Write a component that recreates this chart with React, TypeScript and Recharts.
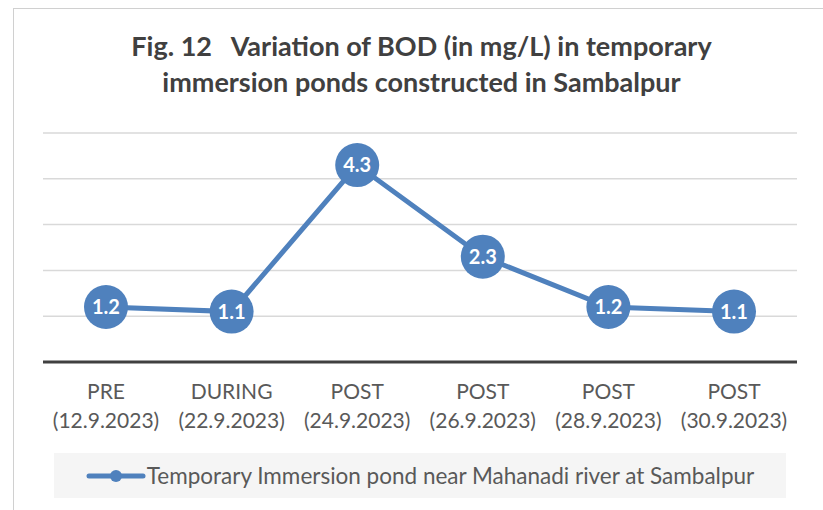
import React from 'react';
import { LineChart, Line, XAxis, YAxis, CartesianGrid } from 'recharts';

const phases = ['PRE', 'DURING', 'POST', 'POST', 'POST', 'POST'];
const dates = ['(12.9.2023)', '(22.9.2023)', '(24.9.2023)', '(26.9.2023)', '(28.9.2023)', '(30.9.2023)'];
const bodValues = [1.2, 1.1, 4.3, 2.3, 1.2, 1.1];
const yTicks = [0, 1, 2, 3, 4, 5];

const seriesName = 'Temporary Immersion pond near Mahanadi river at Sambalpur';
const blue = '#4F81BD';
const font = 'Lato, "Open Sans", sans-serif';

const data = phases.map((p, i) => ({ key: `${p} ${dates[i]}`, phase: p, date: dates[i], bod: bodValues[i] }));

function CategoryTick(props: any) {
    const { x, y, index } = props;
    return (
        <g>
            <text x={x} y={y + 29} textAnchor="middle" fill="#595959" fontSize={21} fontFamily={font}>
                {phases[index]}
            </text>
            <text x={x} y={y + 58} textAnchor="middle" fill="#595959" fontSize={21} fontFamily={font}>
                {dates[index]}
            </text>
        </g>
    );
}

function PointLabel(props: any) {
    const { x, y, value } = props;
    return (
        <text x={x} y={y} dy={7} textAnchor="middle" fill="#fff" fontSize={20} fontWeight="bold" fontFamily={font}>
            {value}
        </text>
    );
}

export default function App() {
    return (
        <div style={{ position: 'absolute', left: 0, top: 0, width: 823, height: 510, background: '#fff', fontFamily: font }}>
            <div
                style={{
                    position: 'absolute',
                    left: 13,
                    top: 8,
                    width: 830,
                    height: 520,
                    border: '1px solid #d0d0d0',
                    boxSizing: 'border-box',
                }}
            />
            <div
                style={{
                    position: 'absolute',
                    left: 0,
                    top: 28,
                    width: 843,
                    textAlign: 'center',
                    fontSize: 27,
                    fontWeight: 'bold',
                    color: '#404040',
                    lineHeight: '36px',
                }}
            >
                Fig. 12&nbsp;&nbsp; Variation of BOD (in mg/L) in temporary
                <br />
                immersion ponds constructed in Sambalpur
            </div>
            <div style={{ position: 'absolute', left: 0, top: 0 }}>
                <LineChart
                    width={823}
                    height={510}
                    data={data}
                    margin={{ top: 133, right: 26, bottom: 68, left: 43 }}
                >
                    <CartesianGrid horizontal vertical={false} stroke="#d9d9d9" strokeWidth={1.5} />
                    <YAxis hide domain={[0, 5]} ticks={yTicks} />
                    <XAxis
                        dataKey="key"
                        height={80}
                        padding={{ left: 63, right: 63 }}
                        axisLine={{ stroke: '#404040', strokeWidth: 3 }}
                        tickLine={false}
                        interval={0}
                        tick={<CategoryTick />}
                    />
                    <Line
                        dataKey="bod"
                        name={seriesName}
                        stroke={blue}
                        strokeWidth={5}
                        dot={{ r: 22, fill: blue, stroke: blue, strokeWidth: 0 }}
                        activeDot={false}
                        label={<PointLabel />}
                        isAnimationActive={false}
                    />
                </LineChart>
            </div>
            <div
                style={{
                    position: 'absolute',
                    left: 54,
                    top: 453,
                    width: 732,
                    height: 45,
                    background: '#f5f5f5',
                    display: 'flex',
                    alignItems: 'center',
                    justifyContent: 'center',
                }}
            >
                <svg width={60} height={14} style={{ marginRight: 1 }}>
                    <line x1={3} y1={7} x2={57} y2={7} stroke={blue} strokeWidth={5} strokeLinecap="round" />
                    <circle cx={30} cy={7} r={6} fill={blue} />
                </svg>
                <span style={{ fontSize: 22.5, color: '#595959' }}>{seriesName}</span>
            </div>
        </div>
    );
}
